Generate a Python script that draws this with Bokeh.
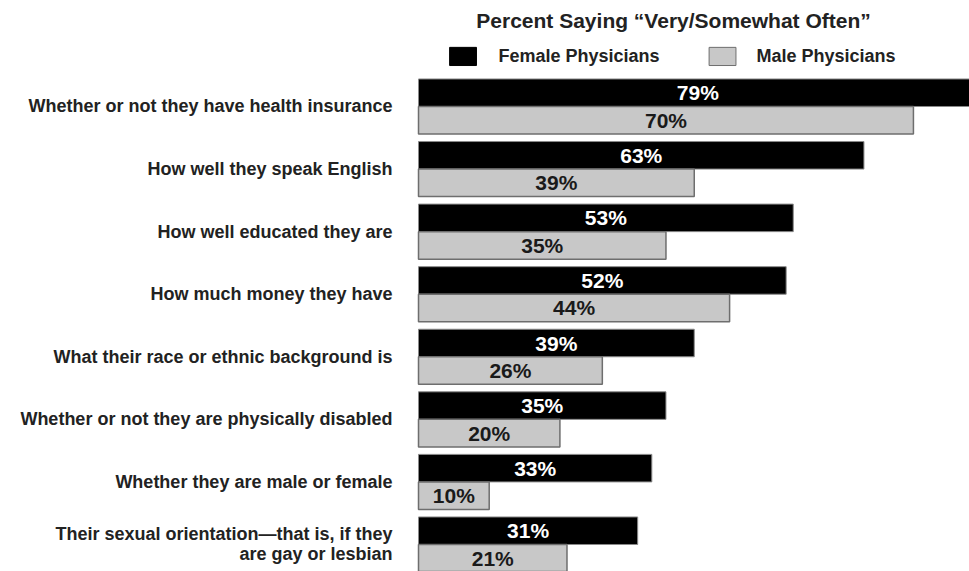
from bokeh.plotting import figure
from bokeh.models import Range1d, ColumnDataSource
from bokeh.core.properties import value
from bokeh.embed import file_html
from bokeh.resources import INLINE

categories = [
    "Whether or not they have health insurance",
    "How well they speak English",
    "How well educated they are",
    "How much money they have",
    "What their race or ethnic background is",
    "Whether or not they are physically disabled",
    "Whether they are male or female",
    "Their sexual orientation\u2014that is, if they\nare gay or lesbian",
]
female = [79, 63, 53, 52, 39, 35, 33, 31]
male = [70, 39, 35, 44, 26, 20, 10, 21]
title_text = "Percent Saying \u201cVery/Somewhat Often\u201d"
series_names = ["Female Physicians", "Male Physicians"]

FONT = value("Liberation Sans")
BAR_H = 0.44

rows = list(range(len(categories)))
src = ColumnDataSource(dict(
    row=rows,
    fy=[r - BAR_H / 2 for r in rows],
    my=[r + BAR_H / 2 for r in rows],
    female=female,
    male=male,
    fx=[v / 2 for v in female],
    mx=[v / 2 for v in male],
    flab=[f"{v}%" for v in female],
    mlab=[f"{v}%" for v in male],
    cat=categories,
))

p = figure(width=969, height=571, output_backend="svg", toolbar_location=None,
           x_range=Range1d(-59.12, 77.93), y_range=Range1d(7.4317, -1.6941),
           min_border=0, min_border_left=0, min_border_right=0,
           min_border_top=0, min_border_bottom=0)
p.xaxis.visible = False
p.yaxis.visible = False
p.grid.visible = False
p.outline_line_color = None
p.background_fill_color = "white"
p.border_fill_color = "white"

p.hbar(y="fy", left=0, right="female", height=BAR_H, source=src,
       fill_color="black", line_color="#8a8a8a", line_width=1)
p.hbar(y="my", left=0, right="male", height=BAR_H, source=src,
       fill_color="#c8c8c8", line_color="#6e6e6e", line_width=1.5)

p.text(x="fx", y="fy", text="flab", source=src, text_color="white",
       text_font=FONT, text_font_style="bold", text_font_size="21px",
       text_align="center", text_baseline="middle")
p.text(x="mx", y="my", text="mlab", source=src, text_color="#1a1a1a",
       text_font=FONT, text_font_style="bold", text_font_size="21px",
       text_align="center", text_baseline="middle")

# category labels
p.text(x=-3.68, y="row", text="cat", source=src, text_color="#222222",
       text_font=FONT, text_font_style="bold", text_font_size="18px",
       text_align="right", text_baseline="middle", text_line_height=1.0)

# title
p.text(x=[36.07], y=[-1.3745], text=[title_text], text_color="#222222",
       text_font=FONT, text_font_style="bold", text_font_size="21px",
       text_align="center", text_baseline="middle")

# legend
p.rect(x=[6.3, 43.0], y=[-0.80, -0.80], width=[3.8, 3.8], height=[0.29, 0.29],
       fill_color=["black", "#c8c8c8"], line_color=["black", "#6e6e6e"], line_width=1)
p.text(x=[11.3, 47.8], y=[-0.80, -0.80], text=series_names, text_color="#222222",
       text_font=FONT, text_font_style="bold", text_font_size="18px",
       text_align="left", text_baseline="middle")

open("out.html", "w").write(file_html(p, INLINE))
